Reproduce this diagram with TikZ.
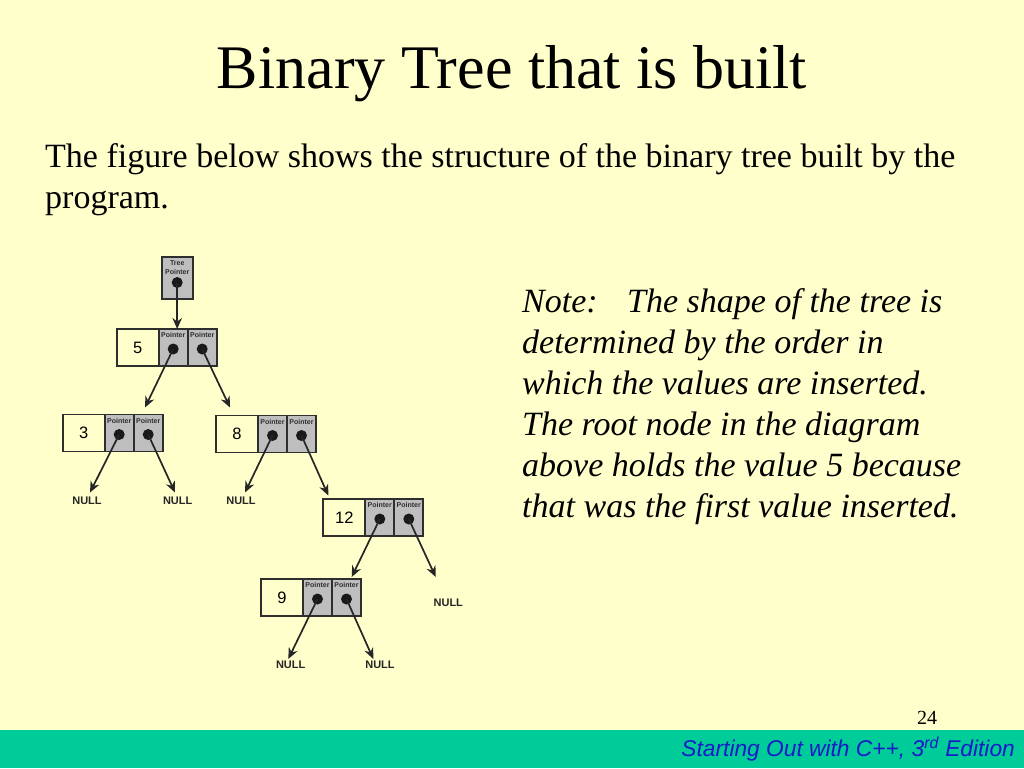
\documentclass[tikz,border=0pt]{standalone}
\usepackage{fontspec}
\setmainfont{Liberation Serif}
\setsansfont{Liberation Sans}
\usetikzlibrary{arrows.meta,calc}
\definecolor{bg}{HTML}{FFFFCC}
\definecolor{footbar}{HTML}{00CC99}
\definecolor{foottext}{HTML}{1A1AC8}
\definecolor{cellgray}{HTML}{BEBEBE}
\definecolor{edge}{HTML}{2E2E2E}
\tikzset{
  valcell/.style={draw=edge, line width=1.8pt, fill=bg, minimum width=42pt, minimum height=37pt, inner sep=0pt, outer sep=0pt, font=\sffamily\fontsize{16.5}{19}\selectfont},
  ptrcell/.style={draw=edge, line width=1.8pt, fill=cellgray, minimum width=29pt, minimum height=37pt, inner sep=0pt, outer sep=0pt},
  tpcell/.style={draw=edge, line width=1.8pt, fill=cellgray, minimum width=31pt, minimum height=42pt, inner sep=0pt, outer sep=0pt},
  ptrlabel/.style={inner sep=0pt, text=edge, font=\sffamily\bfseries\fontsize{7}{8}\selectfont},
  dotnode/.style={circle, fill=black!90, minimum size=11pt, inner sep=0pt},
  arr/.style={draw=black!85, line width=1.7pt, -{Stealth[length=11pt,width=9.5pt]}},
  nulllabel/.style={inner sep=0pt, text=black!85, font=\sffamily\bfseries\fontsize{11}{13}\selectfont},
  titletext/.style={inner sep=0pt, font=\fontsize{62}{70}\selectfont},
  bodytext/.style={inner sep=0pt, anchor=base west, font=\fontsize{34}{40}\selectfont},
  notetext/.style={inner sep=0pt, anchor=base west, font=\itshape\fontsize{34}{40}\selectfont},
}
\newcommand{\bstnode}[4]{%
  \node[valcell, anchor=north west] (#1v) at (#2,#3) {#4};
  \node[ptrcell, anchor=north west] (#1l) at (#1v.north east) {};
  \node[ptrcell, anchor=north west] (#1r) at (#1l.north east) {};
  \node[ptrlabel] (#1lt) at ($(#1l.north)+(0,6)$) {Pointer};
  \node[ptrlabel] (#1rt) at ($(#1r.north)+(0,6)$) {Pointer};
  \node[dotnode] (#1ld) at ($(#1l.north)+(0,20)$) {};
  \node[dotnode] (#1rd) at ($(#1r.north)+(0,20)$) {};
}
\begin{document}
\begin{tikzpicture}[x=1pt,y=-1pt]
\useasboundingbox (0,0) rectangle (1024,768);
\fill[bg] (0,0) rectangle (1024,768);
\fill[footbar] (0,730) rectangle (1024,768);

% texts
\node[titletext, anchor=base] (title) at (512,88) {Binary Tree that is built};
\node[bodytext] (body1) at (45,167) {The figure below shows the structure of the binary tree built by the};
\node[bodytext] (body2) at (45,208) {program.};
\node[notetext] (note1) at (522,312.5) {Note:\hspace{29.5pt}The shape of the tree is};
\node[notetext] (note2) at (522,353.5) {determined by the order in};
\node[notetext] (note3) at (522,394.5) {which the values are inserted.};
\node[notetext] (note4) at (522,435.5) {The root node in the diagram};
\node[notetext] (note5) at (522,476.5) {above holds the value 5 because};
\node[notetext] (note6) at (522,517.5) {that was the first value inserted.};
\node[inner sep=0pt, anchor=base, font=\fontsize{20}{24}\selectfont] (pagenum) at (927,724) {24};
\node[inner sep=0pt, anchor=base east, text=foottext, font=\sffamily\itshape\fontsize{22.75}{26}\selectfont] (footer) at (1015,756) {Starting Out with C++, 3\textsuperscript{rd} Edition};

% tree pointer
\node[tpcell, anchor=north west] (tp) at (161.7,257) {};
\node[ptrlabel] (tpt1) at ($(tp.north)+(0,6)$) {Tree};
\node[ptrlabel] (tpt2) at ($(tp.north)+(0,14.5)$) {Pointer};
\node[dotnode] (tpd) at ($(tp.north)+(0,25.5)$) {};

% tree nodes
\bstnode{n5}{116.7}{329}{5}
\bstnode{n3}{62.7}{414.5}{3}
\bstnode{n8}{216}{415.5}{8}
\bstnode{n12}{323.3}{499}{12}
\bstnode{n9}{261}{579}{9}

% arrow end points
\coordinate (e3) at (145,407.5);
\coordinate (e8) at (230,407.5);
\coordinate (e3l) at (90,492.5);
\coordinate (e3r) at (175,492.5);
\coordinate (e8l) at (245,492.5);
\coordinate (e12) at (328.3,495.5);
\coordinate (e9) at (351.7,577);
\coordinate (e12r) at (435.7,577);
\coordinate (e9l) at (288.3,659);
\coordinate (e9r) at (373.3,659);

% NULL labels
\node[nulllabel] (null1) at (87,501) {NULL};
\node[nulllabel] (null2) at (177.7,501) {NULL};
\node[nulllabel] (null3) at (241,501) {NULL};
\node[nulllabel] (null4) at (448.3,602.5) {NULL};
\node[nulllabel] (null5) at (290.7,665) {NULL};
\node[nulllabel] (null6) at (380,665) {NULL};

% connectors
\draw[arr] (tpd.center) -- (tpd.center |- n5l.north);
\draw[arr] (n5ld.center) -- (e3);
\draw[arr] (n5rd.center) -- (e8);
\draw[arr] (n3ld.center) -- (e3l);
\draw[arr] (n3rd.center) -- (e3r);
\draw[arr] (n8ld.center) -- (e8l);
\draw[arr] (n8rd.center) -- (e12);
\draw[arr] (n12ld.center) -- (e9);
\draw[arr] (n12rd.center) -- (e12r);
\draw[arr] (n9ld.center) -- (e9l);
\draw[arr] (n9rd.center) -- (e9r);
\end{tikzpicture}
\end{document}
